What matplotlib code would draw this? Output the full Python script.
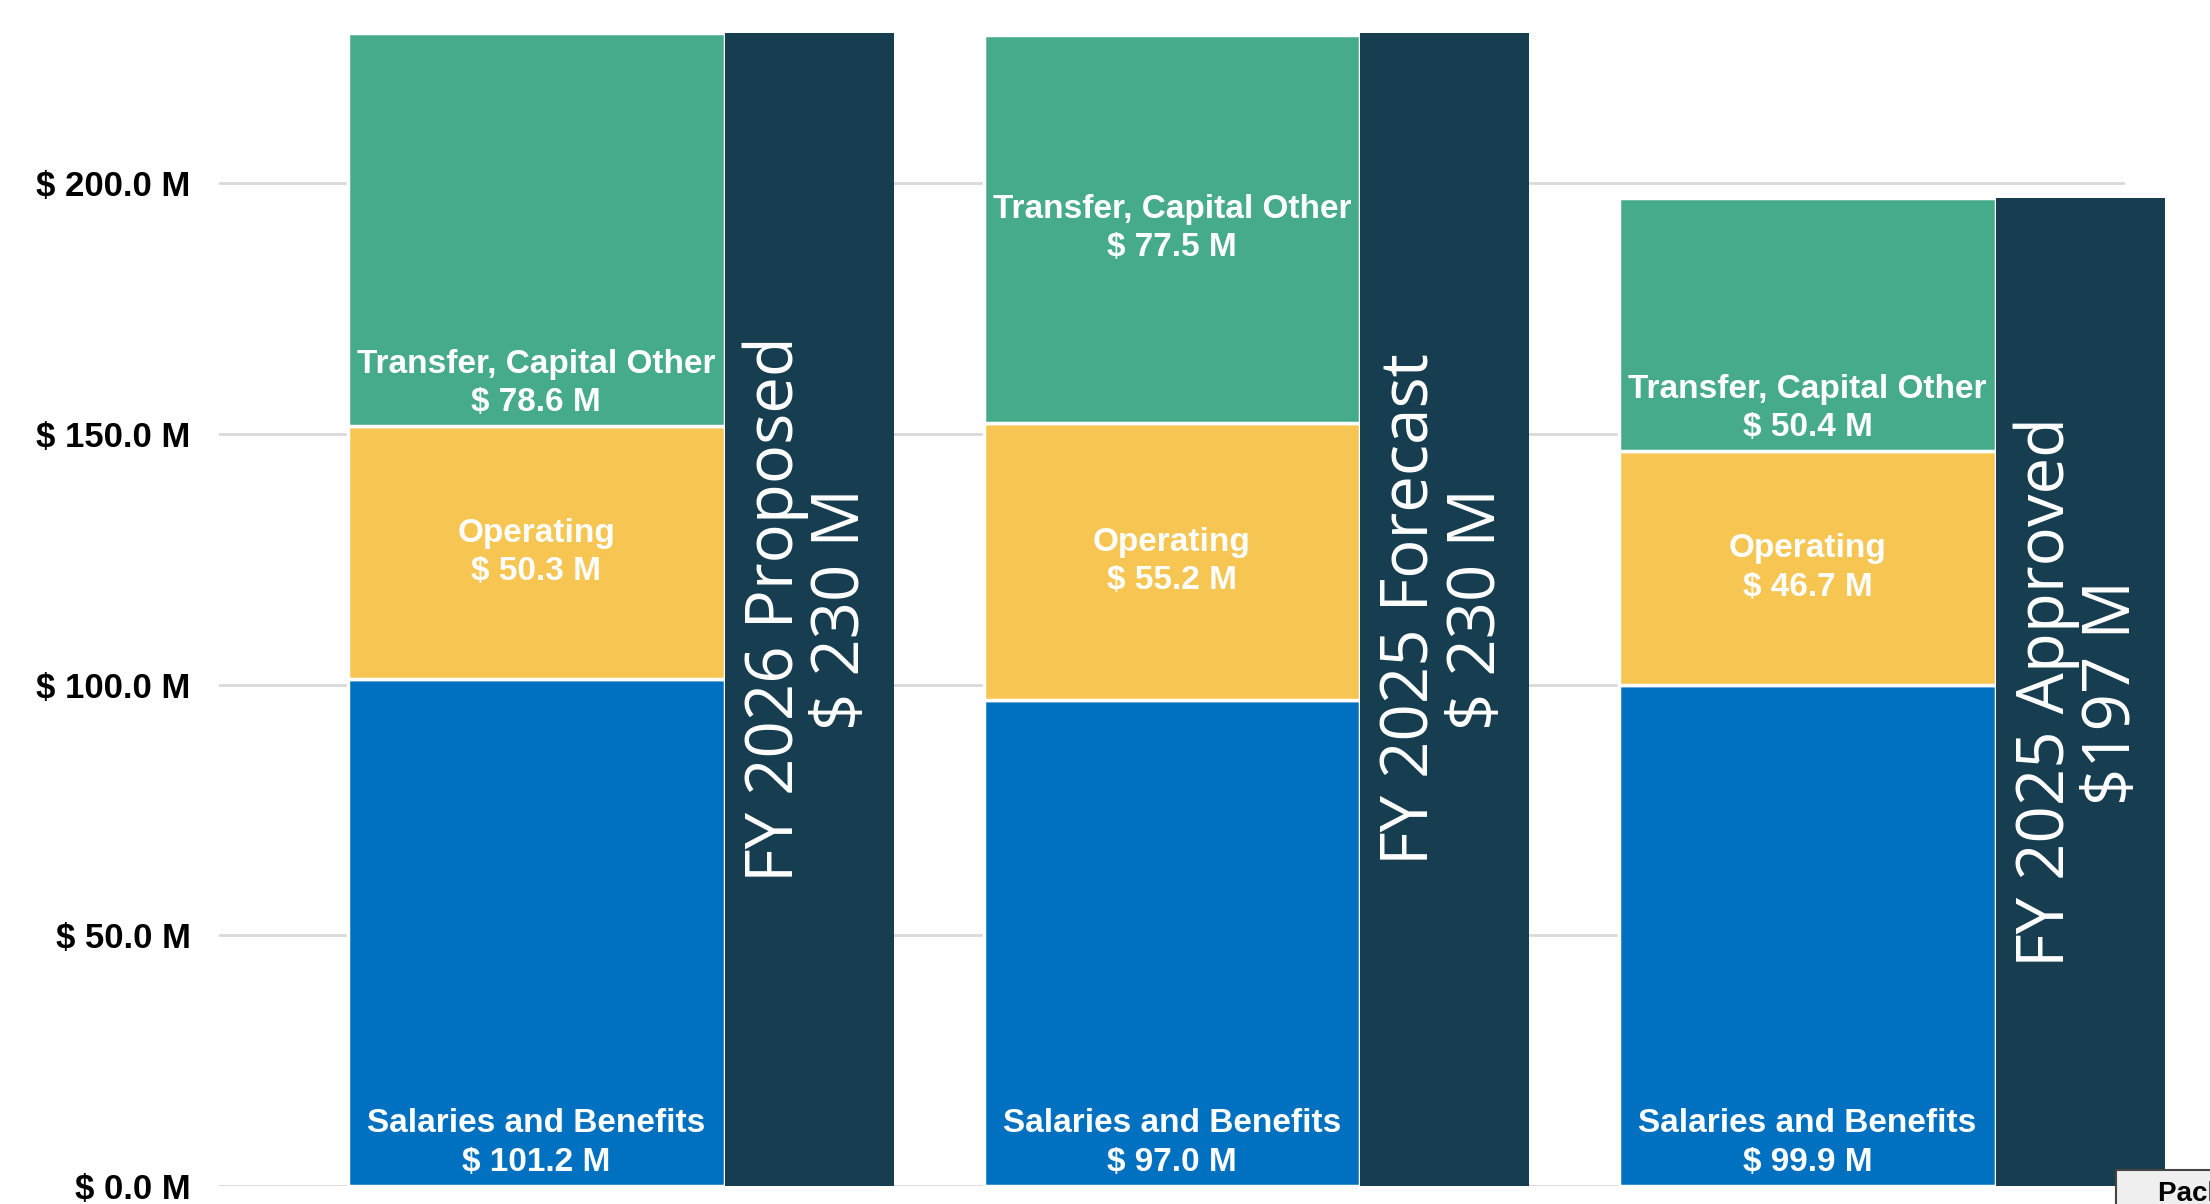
import matplotlib.pyplot as plt

# budget categories per scenario, values in $ M
scenarios = ['FY 2026 Proposed', 'FY 2025 Forecast', 'FY 2025 Approved']
total_labels = ['FY 2026 Proposed\n$ 230 M', 'FY 2025 Forecast\n$ 230 M', 'FY 2025 Approved\n$197 M']
salaries = [101.2, 97.0, 99.9]
operating = [50.3, 55.2, 46.7]
transfer = [78.6, 77.5, 50.4]
totals = [230, 230, 197]
yticks = [0, 50, 100, 150, 200]

c_sal = '#0070C0'
c_op = '#F7C552'
c_tr = '#45AB8A'
c_tot = '#163E50'

lab_font = 'Liberation Sans'

fig = plt.figure(figsize=(22.1, 12.04), dpi=100)
ax = fig.add_axes([0.0989, 0.0152, 0.8628, 0.9848])

w_stack = 0.592
w_tot = 0.266
x = list(range(len(scenarios)))

bottoms_op = salaries
bottoms_tr = [s + o for s, o in zip(salaries, operating)]
kw = dict(align='edge', edgecolor='white', linewidth=2.5, clip_on=False, zorder=3)
ax.bar(x, salaries, w_stack, color=c_sal, **kw)
ax.bar(x, operating, w_stack, bottom=bottoms_op, color=c_op, **kw)
ax.bar(x, transfer, w_stack, bottom=bottoms_tr, color=c_tr, **kw)
ax.bar([i + w_stack for i in x], totals, w_tot, color=c_tot, align='edge',
       linewidth=0, clip_on=False, zorder=4)

lab = dict(color='white', fontsize=24, fontweight='bold', family=lab_font,
           ha='center', linespacing=1.3, zorder=5)
transfer_anchor = ['base', 'center', 'base']
for i in x:
    cx = i + w_stack / 2
    ax.text(cx, 1.6, f'Salaries and Benefits\n$ {salaries[i]:.1f} M', va='bottom', **lab)
    ax.text(cx, bottoms_op[i] + operating[i] / 2, f'Operating\n$ {operating[i]:.1f} M',
            va='center', **lab)
    if transfer_anchor[i] == 'center':
        ax.text(cx, bottoms_tr[i] + transfer[i] / 2, f'Transfer, Capital Other\n$ {transfer[i]:.1f} M',
                va='center', **lab)
    else:
        ax.text(cx, bottoms_tr[i] + 1.6, f'Transfer, Capital Other\n$ {transfer[i]:.1f} M',
                va='bottom', **lab)
    ax.text(i + w_stack + w_tot / 2, totals[i] / 2, total_labels[i], rotation=90,
            ha='center', va='center', multialignment='center', color='white',
            fontsize=47, family='Open Sans', linespacing=1.0, zorder=6)

ax.set_xlim(-0.204, 2.796)
ax.set_ylim(0, 236.6)
ax.set_xticks([])
ax.set_yticks(yticks)
ax.set_yticklabels([f'$ {v:.1f} M' for v in yticks], fontsize=25, fontweight='bold',
                   family=lab_font)
ax.tick_params(axis='y', length=0, pad=20)
ax.grid(axis='y', color='#D9D9D9', linewidth=2, zorder=0)
ax.set_axisbelow(True)
for s in ax.spines.values():
    s.set_visible(False)

fig.text(0.9625, 0.019, '    Pack', fontsize=20, fontweight='bold', va='top', ha='left',
         family=lab_font,
         bbox=dict(boxstyle='square,pad=0.4', fc='#EFEFEF', ec='#444444', lw=1.5))

fig.savefig('out.png', dpi=100)
